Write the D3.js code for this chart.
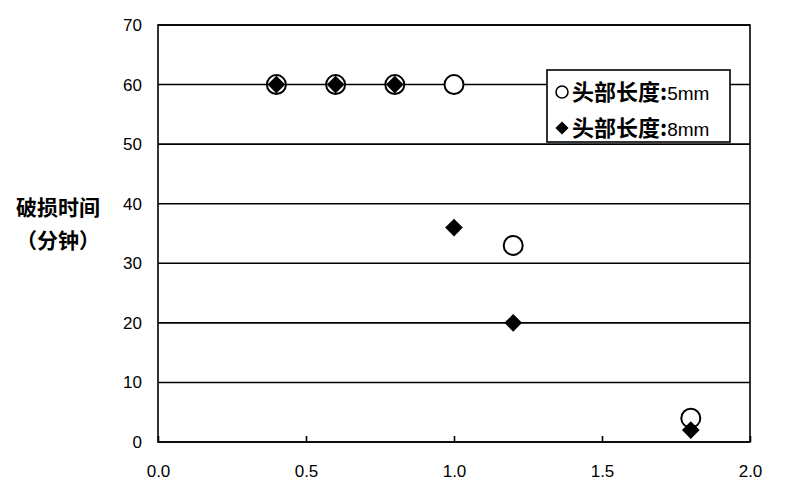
<!DOCTYPE html>
<html><head><meta charset="utf-8">
<script src="https://cdn.jsdelivr.net/npm/d3@7"></script>
<style>body{margin:0;background:#fff}</style>
</head><body>
<svg id="c" width="800" height="490"></svg>
<script>
const xTicks = [0.0, 0.5, 1.0, 1.5, 2.0];
const yTicks = [0, 10, 20, 30, 40, 50, 60, 70];
const xs5 = [0.4, 0.6, 0.8, 1.0, 1.2, 1.8];
const ys5 = [60, 60, 60, 60, 33, 4];
const xs8 = [0.4, 0.6, 0.8, 1.0, 1.2, 1.8];
const ys8 = [60, 60, 60, 36, 20, 2];
const seriesNames = ["头部长度:5mm", "头部长度:8mm"];
const yTitle = ["破损时间", "（分钟）"];

const svg = d3.select("#c");
const L = 158, R = 750, T = 25, B = 442;
const x = d3.scaleLinear().domain([0, 2]).range([L, R]);
const y = d3.scaleLinear().domain([0, 70]).range([B, T]);
const fontNum = "'Liberation Sans', Arial, sans-serif";
const fontCJK = "'Noto Sans CJK SC', sans-serif";

// gridlines
svg.append("g").selectAll("line").data(yTicks).join("line")
  .attr("x1", L).attr("x2", R).attr("y1", d => y(d)).attr("y2", d => y(d))
  .attr("stroke", "#000").attr("stroke-width", 1.6);
// frame
svg.append("rect").attr("x", L).attr("y", T).attr("width", R - L).attr("height", B - T)
  .attr("fill", "none").attr("stroke", "#000").attr("stroke-width", 1.6);

// x axis
const xa = svg.append("g").attr("transform", `translate(0,${B})`)
  .call(d3.axisTop(x).tickValues(xTicks).tickSize(6).tickFormat(d3.format(".1f")));
xa.select(".domain").remove();
xa.selectAll("line").attr("stroke-width", 1.6);
xa.selectAll("text").attr("y", 23).attr("dy", "0.71em").style("font-family", fontNum)
  .style("font-size", "17px").attr("fill", "#000");

// y axis
const ya = svg.append("g").attr("transform", `translate(${L},0)`)
  .call(d3.axisLeft(y).tickValues(yTicks).tickSize(0).tickPadding(16));
ya.select(".domain").remove();
ya.selectAll("text").style("font-family", fontNum).style("font-size", "17px").attr("fill", "#000");

// y title
svg.append("g").selectAll("text").data(yTitle).join("text")
  .attr("x", 58).attr("y", (d, i) => 215 + i * 33).attr("text-anchor", "middle")
  .style("font-family", fontCJK).style("font-weight", "bold").style("font-size", "21px")
  .text(d => d);

const sym8 = d3.symbol().type(d3.symbolDiamond2).size(200);
// circles (5mm)
svg.append("g").selectAll("circle").data(xs5.map((v, i) => [v, ys5[i]])).join("circle")
  .attr("cx", d => x(d[0])).attr("cy", d => y(d[1])).attr("r", 9.5)
  .attr("fill", "#fff").attr("stroke", "#000").attr("stroke-width", 2);
// diamonds (8mm)
svg.append("g").selectAll("path").data(xs8.map((v, i) => [v, ys8[i]])).join("path")
  .attr("transform", d => `translate(${x(d[0])},${y(d[1])})`)
  .attr("d", sym8).attr("fill", "#000");

// legend
const lg = svg.append("g");
lg.append("rect").attr("x", 547).attr("y", 70).attr("width", 183).attr("height", 72)
  .attr("fill", "#fff").attr("stroke", "#000").attr("stroke-width", 1.6);
lg.append("circle").attr("cx", 562).attr("cy", 92).attr("r", 6)
  .attr("fill", "#fff").attr("stroke", "#000").attr("stroke-width", 1.6);
lg.append("path").attr("transform", "translate(562,128)")
  .attr("d", d3.symbol().type(d3.symbolDiamond2).size(110)).attr("fill", "#000");
seriesNames.forEach((n, i) => {
  const parts = n.split(":");
  const t = lg.append("text").attr("x", 572).attr("y", 100 + i * 36)
    .style("font-size", "22px").attr("fill", "#000");
  t.append("tspan").style("font-family", fontCJK).style("font-weight", "bold").text(parts[0] + ":");
  t.append("tspan").style("font-family", fontNum).style("font-size", "19px").text(parts[1]);
});
</script>
</body></html>
